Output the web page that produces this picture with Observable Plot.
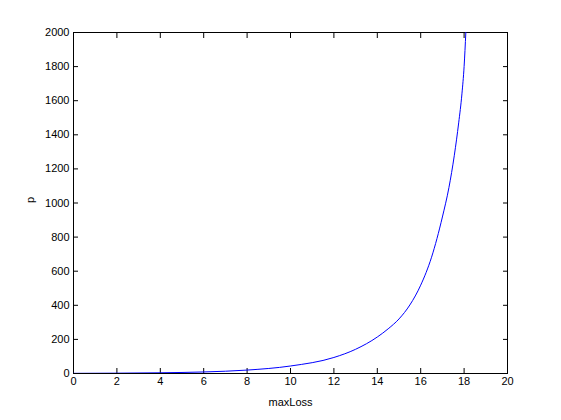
<!DOCTYPE html>
<html>
<head>
<meta charset="utf-8">
<script src="https://cdn.jsdelivr.net/npm/d3@7"></script>
<script src="https://cdn.jsdelivr.net/npm/@observablehq/plot@0.6"></script>
<style>
  html, body { margin: 0; padding: 0; background: #fff; }
  svg { display: block; }
</style>
</head>
<body>
<div id="chart"></div>
<script>
const maxLoss = [0, 2, 4, 6, 8, 10, 12, 13, 14, 14.5, 15, 15.5, 16, 16.5, 17, 17.3, 17.55, 17.75, 17.9, 18, 18.08];
const p = [1, 2, 4.2, 9, 20, 44, 94, 142, 214, 262, 320, 402, 518, 682, 918, 1090, 1280, 1470, 1640, 1800, 2000];
const xTicks = [0, 2, 4, 6, 8, 10, 12, 14, 16, 18, 20];
const yTicks = [0, 200, 400, 600, 800, 1000, 1200, 1400, 1600, 1800, 2000];

const data = maxLoss.map((x, i) => ({x, p: p[i]}));

const chart = Plot.plot({
  width: 561,
  height: 420,
  marginLeft: 73,
  marginRight: 54,
  marginTop: 32,
  marginBottom: 47,
  style: {fontFamily: "Liberation Sans, Arial, sans-serif", fontSize: "11px", color: "#000", background: "#fff"},
  x: {domain: [0, 20]},
  y: {domain: [0, 2000]},
  marks: [
    Plot.frame({stroke: "#000"}),
    Plot.axisX({ticks: xTicks, tickSize: -5, tickPadding: 9, tickFormat: d => String(d), label: null}),
    Plot.axisX({anchor: "top", ticks: xTicks, tickSize: -5, text: null, label: null}),
    Plot.axisY({ticks: yTicks, tickSize: -5, tickPadding: 9, tickFormat: d => String(d), label: null}),
    Plot.axisY({anchor: "right", ticks: yTicks, tickSize: -5, text: null, label: null}),
    Plot.line(data, {x: "x", y: "p", stroke: "#0000ff", strokeWidth: 1, curve: "monotone-x", clip: true}),
    Plot.text(["maxLoss"], {frameAnchor: "bottom", dy: 32, text: d => d, fontSize: 11}),
    Plot.text(["p"], {frameAnchor: "left", dx: -43, rotate: -90, text: d => d, fontSize: 11})
  ]
});
document.getElementById("chart").appendChild(chart);
</script>
</body>
</html>
